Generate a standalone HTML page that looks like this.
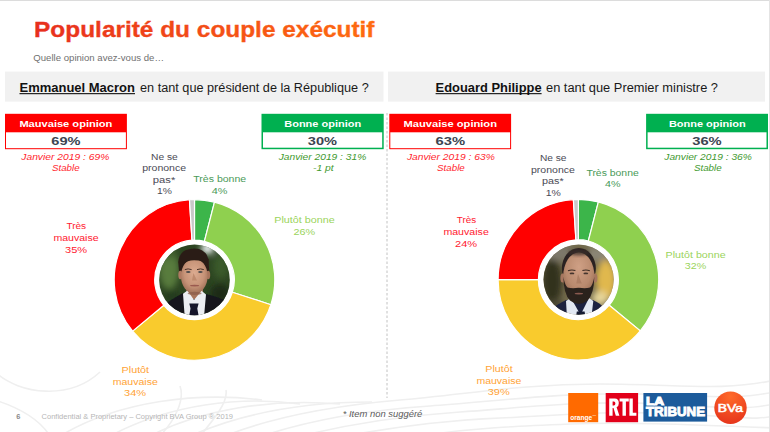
<!DOCTYPE html>
<html><head><meta charset="utf-8"><title>Popularité du couple exécutif</title>
<style>
html,body{margin:0;padding:0;background:#fff;}
body{width:770px;height:432px;overflow:hidden;font-family:"Liberation Sans",sans-serif;}
svg{display:block;font-family:"Liberation Sans",sans-serif;}
</style></head><body>
<svg width="770" height="432" viewBox="0 0 770 432">
<rect width="770" height="432" fill="#fff"/>
<defs><filter id="wb" x="-5%" y="-20%" width="110%" height="140%"><feGaussianBlur stdDeviation="0.6"/></filter></defs>
<g fill="none" stroke="#efefef" stroke-width="1.6" filter="url(#wb)">
<path d="M-5 372 C 20 395, 70 400, 100 372"/>
<path d="M-5 400 C 20 408, 40 420, 50 436"/>
<path d="M60 436 C 120 400, 200 392, 262 400"/>
<path d="M110 436 C 170 404, 240 396, 300 404"/>
<path d="M150 436 C 200 410, 270 398, 340 404"/>
<path d="M190 436 C 240 414, 300 402, 372 402"/>
<path d="M225 436 C 270 418, 330 406, 400 400 S 520 384, 600 384 S 720 392, 775 380"/>
<path d="M262 436 C 310 420, 370 410, 430 406 S 560 392, 640 394 S 730 400, 775 392"/>
<path d="M300 436 C 350 424, 400 416, 460 412 S 580 400, 660 404 S 740 410, 775 404"/>
<path d="M345 436 C 400 426, 450 420, 500 418 S 600 410, 680 414 S 750 420, 775 416"/>
<path d="M420 436 C 470 428, 520 426, 570 424 S 680 424, 775 428"/>
<path d="M160 436 C 175 420, 185 400, 180 386"/>
<path d="M200 436 C 215 418, 228 402, 226 390"/>
</g>
<rect x="0" y="0" width="770" height="1" fill="#dcdcdc"/>
<rect x="769" y="0" width="1" height="432" fill="#e4e4e4"/>
<defs><linearGradient id="tg" x1="34" x2="375" y1="0" y2="0" gradientUnits="userSpaceOnUse"><stop offset="0" stop-color="#e72f1d"/><stop offset="1" stop-color="#ff6c10"/></linearGradient></defs>
<text x="34.1" y="36.6" font-size="21.4" fill="url(#tg)" font-weight="bold" font-style="normal" textLength="340.4" lengthAdjust="spacingAndGlyphs" stroke="url(#tg)" stroke-width="0.3">Popularité du couple exécutif</text>
<text x="33.3" y="60.8" font-size="8.8" fill="#707070" font-weight="normal" font-style="normal" textLength="130.7" lengthAdjust="spacingAndGlyphs" >Quelle opinion avez-vous de…</text>
<rect x="5" y="71.6" width="378.5" height="30" fill="#f1f1f1"/>
<rect x="388" y="71.6" width="377" height="30" fill="#f1f1f1"/>
<text x="19.5" y="91.8" font-size="12.3" fill="#111" font-weight="bold" font-style="normal" textLength="115.5" lengthAdjust="spacingAndGlyphs" >Emmanuel Macron</text>
<rect x="19.5" y="93.1" width="115.5" height="1.1" fill="#111"/>
<text x="140.0" y="91.8" font-size="12.3" fill="#1a1a1a" font-weight="normal" font-style="normal" textLength="228.7" lengthAdjust="spacingAndGlyphs" >en tant que président de la République ?</text>
<text x="435.6" y="91.8" font-size="12.3" fill="#111" font-weight="bold" font-style="normal" textLength="106.0" lengthAdjust="spacingAndGlyphs" >Edouard Philippe</text>
<rect x="435.6" y="93.1" width="106" height="1.1" fill="#111"/>
<text x="546.0" y="91.8" font-size="12.3" fill="#1a1a1a" font-weight="normal" font-style="normal" textLength="172.0" lengthAdjust="spacingAndGlyphs" >en tant que Premier ministre ?</text>
<line x1="387" y1="113" x2="387" y2="398" stroke="#c2c2c2" stroke-width="1" stroke-dasharray="2.5 2"/>
<rect x="5" y="113.8" width="121.9" height="35.4" fill="#ff0000"/>
<rect x="6" y="132.3" width="119.9" height="15.9" fill="#fff"/>
<text x="19.4" y="126.9" font-size="9.5" fill="#fff" font-weight="bold" font-style="normal" textLength="93.0" lengthAdjust="spacingAndGlyphs" >Mauvaise opinion</text>
<text x="51.3" y="144.5" font-size="11.2" fill="#3b4450" font-weight="bold" font-style="normal" textLength="29.2" lengthAdjust="spacingAndGlyphs" >69%</text>
<text x="21.3" y="160.2" font-size="9.0" fill="#ff1f2f" font-weight="normal" font-style="italic" textLength="88.0" lengthAdjust="spacingAndGlyphs" >Janvier 2019 : 69%</text>
<text x="52.0" y="170.8" font-size="9.0" fill="#ff1f2f" font-weight="normal" font-style="italic" textLength="27.6" lengthAdjust="spacingAndGlyphs" >Stable</text>
<rect x="261.5" y="113.8" width="122.19999999999999" height="35.4" fill="#00b050"/>
<rect x="263.0" y="132.3" width="119.19999999999999" height="15.4" fill="#fff"/>
<text x="284.3" y="126.9" font-size="9.5" fill="#fff" font-weight="bold" font-style="normal" textLength="76.8" lengthAdjust="spacingAndGlyphs" >Bonne opinion</text>
<text x="307.8" y="144.5" font-size="11.2" fill="#3b4450" font-weight="bold" font-style="normal" textLength="29.2" lengthAdjust="spacingAndGlyphs" >30%</text>
<text x="278.7" y="160.2" font-size="9.0" fill="#3f9a2f" font-weight="normal" font-style="italic" textLength="87.6" lengthAdjust="spacingAndGlyphs" >Janvier 2019 : 31%</text>
<text x="313.0" y="170.8" font-size="9.0" fill="#3f9a2f" font-weight="normal" font-style="italic" textLength="20.7" lengthAdjust="spacingAndGlyphs" >-1 pt</text>
<rect x="389.3" y="113.8" width="121.80000000000001" height="35.4" fill="#ff0000"/>
<rect x="390.3" y="132.3" width="119.80000000000001" height="15.9" fill="#fff"/>
<text x="403.5" y="126.9" font-size="9.5" fill="#fff" font-weight="bold" font-style="normal" textLength="93.5" lengthAdjust="spacingAndGlyphs" >Mauvaise opinion</text>
<text x="435.6" y="144.5" font-size="11.2" fill="#3b4450" font-weight="bold" font-style="normal" textLength="29.6" lengthAdjust="spacingAndGlyphs" >63%</text>
<text x="406.9" y="160.2" font-size="9.0" fill="#ff1f2f" font-weight="normal" font-style="italic" textLength="87.9" lengthAdjust="spacingAndGlyphs" >Janvier 2019 : 63%</text>
<text x="437.0" y="170.8" font-size="9.0" fill="#ff1f2f" font-weight="normal" font-style="italic" textLength="27.8" lengthAdjust="spacingAndGlyphs" >Stable</text>
<rect x="646.1" y="113.8" width="121.89999999999998" height="35.4" fill="#00b050"/>
<rect x="647.6" y="132.3" width="118.89999999999998" height="15.4" fill="#fff"/>
<text x="668.9" y="126.9" font-size="9.5" fill="#fff" font-weight="bold" font-style="normal" textLength="76.8" lengthAdjust="spacingAndGlyphs" >Bonne opinion</text>
<text x="692.2" y="144.5" font-size="11.2" fill="#3b4450" font-weight="bold" font-style="normal" textLength="29.5" lengthAdjust="spacingAndGlyphs" >36%</text>
<text x="664.3" y="160.2" font-size="9.0" fill="#3f9a2f" font-weight="normal" font-style="italic" textLength="87.6" lengthAdjust="spacingAndGlyphs" >Janvier 2019 : 36%</text>
<text x="693.9" y="170.8" font-size="9.0" fill="#3f9a2f" font-weight="normal" font-style="italic" textLength="27.8" lengthAdjust="spacingAndGlyphs" >Stable</text>
<path d="M194.50 199.60A80.3 80.3 0 0 1 214.47 202.12L204.40 241.35A39.8 39.8 0 0 0 194.50 240.10Z" fill="#3cb54a" stroke="#fff" stroke-width="1.2" stroke-linejoin="round"/>
<path d="M214.47 202.12A80.3 80.3 0 0 1 270.87 304.71L232.35 292.20A39.8 39.8 0 0 0 204.40 241.35Z" fill="#8fd04f" stroke="#fff" stroke-width="1.2" stroke-linejoin="round"/>
<path d="M270.87 304.71A80.3 80.3 0 0 1 132.63 331.09L163.83 305.27A39.8 39.8 0 0 0 232.35 292.20Z" fill="#f9cb2d" stroke="#fff" stroke-width="1.2" stroke-linejoin="round"/>
<path d="M132.63 331.09A80.3 80.3 0 0 1 189.46 199.76L192.00 240.18A39.8 39.8 0 0 0 163.83 305.27Z" fill="#ff0000" stroke="#fff" stroke-width="1.2" stroke-linejoin="round"/>
<path d="M189.46 199.76A80.3 80.3 0 0 1 194.50 199.60L194.50 240.10A39.8 39.8 0 0 0 192.00 240.18Z" fill="#c8c8c8" stroke="#fff" stroke-width="1.2" stroke-linejoin="round"/>
<path d="M578.40 199.40A80.3 80.3 0 0 1 598.37 201.92L588.35 240.96A40.0 40.0 0 0 0 578.40 239.70Z" fill="#3cb54a" stroke="#fff" stroke-width="1.2" stroke-linejoin="round"/>
<path d="M598.37 201.92A80.3 80.3 0 0 1 640.27 330.89L609.22 305.20A40.0 40.0 0 0 0 588.35 240.96Z" fill="#8fd04f" stroke="#fff" stroke-width="1.2" stroke-linejoin="round"/>
<path d="M640.27 330.89A80.3 80.3 0 0 1 498.10 279.70L538.40 279.70A40.0 40.0 0 0 0 609.22 305.20Z" fill="#f9cb2d" stroke="#fff" stroke-width="1.2" stroke-linejoin="round"/>
<path d="M498.10 279.70A80.3 80.3 0 0 1 573.36 199.56L575.89 239.78A40.0 40.0 0 0 0 538.40 279.70Z" fill="#ff0000" stroke="#fff" stroke-width="1.2" stroke-linejoin="round"/>
<path d="M573.36 199.56A80.3 80.3 0 0 1 578.40 199.40L578.40 239.70A40.0 40.0 0 0 0 575.89 239.78Z" fill="#c8c8c8" stroke="#fff" stroke-width="1.2" stroke-linejoin="round"/>
<defs>
<clipPath id="c1"><circle cx="194.5" cy="279.9" r="35.3"/></clipPath>
<clipPath id="c2"><circle cx="578.6" cy="279.6" r="35.1"/></clipPath>
<filter id="b1" x="-10%" y="-10%" width="120%" height="120%"><feGaussianBlur stdDeviation="0.65"/></filter>
<filter id="b2" x="-30%" y="-30%" width="160%" height="160%"><feGaussianBlur stdDeviation="1.4"/></filter>
<filter id="b3" x="-30%" y="-30%" width="160%" height="160%"><feGaussianBlur stdDeviation="3"/></filter>
<radialGradient id="f1" cx="0.5" cy="0.42" r="0.62"><stop offset="0" stop-color="#dcab90"/><stop offset="0.6" stop-color="#c79478"/><stop offset="1" stop-color="#9a6b54"/></radialGradient>
<radialGradient id="f2" cx="0.5" cy="0.3" r="0.7"><stop offset="0" stop-color="#cfa085"/><stop offset="0.6" stop-color="#b98a6e"/><stop offset="1" stop-color="#8e634d"/></radialGradient>
</defs>
<!-- Macron -->
<g clip-path="url(#c1)">
<rect x="158" y="243" width="74" height="74" fill="#2c4421"/>
<g filter="url(#b3)">
<ellipse cx="169" cy="270" rx="10" ry="19" fill="#587c3e"/>
<ellipse cx="167" cy="252" rx="10" ry="7" fill="#3f5f2d"/>
<ellipse cx="207.5" cy="248.5" rx="6.5" ry="5.5" fill="#f4f8fa"/>
<ellipse cx="221" cy="266" rx="8" ry="13" fill="#3a5a2b"/>
<ellipse cx="220" cy="294" rx="10" ry="10" fill="#1a2b16"/>
<ellipse cx="172" cy="296" rx="7" ry="7" fill="#233a1c"/>
</g>
<g filter="url(#b1)">
<path d="M160 318 L163 306 Q170 300 183 293 L206 294 Q218 297 226 301 L231 318Z" fill="#13151c"/>
<rect x="186.5" y="286" width="16.5" height="13" fill="#a8755c"/>
<path d="M183 293.7 L187.5 290.5 L194 300 L201.5 290.8 L206 294.6 L203.9 318 L184.8 318Z" fill="#eceef2"/>
<path d="M189.3 303.6 L198.6 303.6 L197.3 308.6 L199 318 L188.8 318 L190.5 308.6Z" fill="#13172a"/>
<path d="M179.2 273 L178.2 262 Q179 253 186 250 Q192.6 247.6 199 249 Q207 252 208.7 259.5 L209.2 273 L205 273 L183 273Z" fill="#2b1d16"/>
<ellipse cx="180.3" cy="275" rx="2" ry="4.2" fill="#b07a62"/>
<ellipse cx="208.2" cy="275" rx="2" ry="4.2" fill="#a8745c"/>
<ellipse cx="194.3" cy="276" rx="13.3" ry="17.6" fill="url(#f1)"/>
<path d="M181.4 268 Q182 259.5 188 257.8 Q194 256.8 199 258 Q205.5 259.5 206.8 268 Q204 261.5 198.5 260.6 Q192 259.8 188 261.2 Q183.5 263 181.4 268Z" fill="#2b1d16"/>
</g>
<g filter="url(#b1)">
<path d="M184.8 269.6 Q188 268.2 191.6 269.6" stroke="#4a3228" stroke-width="1" fill="none"/>
<path d="M197 269.6 Q200.6 268.2 203.8 269.6" stroke="#4a3228" stroke-width="1" fill="none"/>
<ellipse cx="188.3" cy="272" rx="2.3" ry="0.9" fill="#4d4a4a"/>
<ellipse cx="200.4" cy="272" rx="2.3" ry="0.9" fill="#4d4a4a"/>
<path d="M193.4 273 L192 280.6 L197 280.6Z" fill="#b98468" opacity="0.8"/>
<ellipse cx="194.6" cy="285.6" rx="4.6" ry="0.9" fill="#9a5a4f"/>
<ellipse cx="194.6" cy="293.4" rx="7" ry="1.6" fill="#8a5c48" opacity="0.7"/>
</g>
</g>
<!-- Philippe -->
<g clip-path="url(#c2)">
<rect x="542" y="243" width="74" height="74" fill="#726a4c"/>
<g filter="url(#b3)">
<ellipse cx="552" cy="282" rx="10" ry="24" fill="#33321f"/>
<ellipse cx="560" cy="253" rx="14" ry="8" fill="#7d786a"/>
<ellipse cx="598" cy="254" rx="12" ry="8" fill="#8a8575"/>
<ellipse cx="606" cy="280" rx="10" ry="20" fill="#e0b84e"/>
<ellipse cx="600" cy="298" rx="8" ry="7" fill="#e6d59a"/>
<ellipse cx="556" cy="306" rx="8" ry="7" fill="#4d4935"/>
</g>
<g filter="url(#b1)">
<path d="M548 318 L552 309 Q556 305 566 300 L593 300 Q600 303 604 308 L608 318Z" fill="#1b2240"/>
<path d="M566 301 L571 298 L580.5 315 L589 298 L593.3 301 L591.3 318 L567 318Z" fill="#e2e8f2"/>
<path d="M576.8 311.4 L584.6 311.4 L585.6 318 L575.8 318Z" fill="#141a30"/>
<ellipse cx="578.85" cy="268.5" rx="17" ry="20.5" fill="#2c2420"/>
<ellipse cx="562.6" cy="278" rx="2.2" ry="4.6" fill="#a6765e"/>
<ellipse cx="595.2" cy="278" rx="2.2" ry="4.6" fill="#a6765e"/>
<ellipse cx="578.85" cy="277" rx="15.7" ry="24.6" fill="url(#f2)"/>
</g>
<g filter="url(#b2)">
<ellipse cx="578.8" cy="252.5" rx="11" ry="3" fill="#3a2e28" opacity="0.75"/>
</g>
<g filter="url(#b1)">
<path d="M563.4 277 Q563.6 294 570 300.5 Q578.85 307.5 587.6 300.5 Q594 294 594.3 277 Q592.6 285.5 590 287.5 Q586 288.8 578.85 287.8 Q571.6 288.8 567.6 287.5 Q565 285.5 563.4 277Z" fill="#2a211d"/>
<ellipse cx="578.9" cy="293.6" rx="4.2" ry="0.9" fill="#8a5a50"/>
<path d="M568 270.8 Q571.6 269.2 575.4 270.6" stroke="#3e2c25" stroke-width="1.1" fill="none"/>
<path d="M582.4 270.6 Q586 269.2 589.8 270.8" stroke="#3e2c25" stroke-width="1.1" fill="none"/>
<ellipse cx="572" cy="273.4" rx="2.4" ry="0.9" fill="#45352e"/>
<ellipse cx="585.8" cy="273.4" rx="2.4" ry="0.9" fill="#45352e"/>
<path d="M578 274 L576.2 283.4 L581.8 283.4Z" fill="#a97a60" opacity="0.8"/>
</g>
</g>

<text x="151.1" y="159.6" font-size="9.7" fill="#4a4a55" font-weight="normal" font-style="normal" textLength="26.7" lengthAdjust="spacingAndGlyphs" >Ne se</text>
<text x="142.2" y="170.9" font-size="9.7" fill="#4a4a55" font-weight="normal" font-style="normal" textLength="43.9" lengthAdjust="spacingAndGlyphs" >prononce</text>
<text x="152.8" y="182.7" font-size="9.7" fill="#4a4a55" font-weight="normal" font-style="normal" textLength="22.5" lengthAdjust="spacingAndGlyphs" >pas*</text>
<text x="157.0" y="194.2" font-size="9.7" fill="#4a4a55" font-weight="normal" font-style="normal" textLength="14.9" lengthAdjust="spacingAndGlyphs" >1%</text>
<text x="193.3" y="182.0" font-size="9.7" fill="#4a9a58" font-weight="normal" font-style="normal" textLength="52.9" lengthAdjust="spacingAndGlyphs" >Très bonne</text>
<text x="211.8" y="193.7" font-size="9.7" fill="#4a9a58" font-weight="normal" font-style="normal" textLength="15.7" lengthAdjust="spacingAndGlyphs" >4%</text>
<text x="274.3" y="223.0" font-size="9.7" fill="#9bd45c" font-weight="normal" font-style="normal" textLength="60.4" lengthAdjust="spacingAndGlyphs" >Plutôt bonne</text>
<text x="293.5" y="234.8" font-size="9.7" fill="#9bd45c" font-weight="normal" font-style="normal" textLength="21.7" lengthAdjust="spacingAndGlyphs" >26%</text>
<text x="66.4" y="228.8" font-size="9.7" fill="#ff2030" font-weight="normal" font-style="normal" textLength="19.7" lengthAdjust="spacingAndGlyphs" >Très</text>
<text x="53.4" y="240.7" font-size="9.7" fill="#ff2030" font-weight="normal" font-style="normal" textLength="45.2" lengthAdjust="spacingAndGlyphs" >mauvaise</text>
<text x="65.0" y="252.8" font-size="9.7" fill="#ff2030" font-weight="normal" font-style="normal" textLength="22.1" lengthAdjust="spacingAndGlyphs" >35%</text>
<text x="121.6" y="372.8" font-size="9.7" fill="#ffa336" font-weight="normal" font-style="normal" textLength="27.5" lengthAdjust="spacingAndGlyphs" >Plutôt</text>
<text x="112.7" y="384.5" font-size="9.7" fill="#ffa336" font-weight="normal" font-style="normal" textLength="45.1" lengthAdjust="spacingAndGlyphs" >mauvaise</text>
<text x="124.0" y="396.3" font-size="9.7" fill="#ffa336" font-weight="normal" font-style="normal" textLength="22.1" lengthAdjust="spacingAndGlyphs" >34%</text>
<text x="539.9" y="161.2" font-size="9.7" fill="#4a4a55" font-weight="normal" font-style="normal" textLength="26.6" lengthAdjust="spacingAndGlyphs" >Ne se</text>
<text x="531.0" y="173.1" font-size="9.7" fill="#4a4a55" font-weight="normal" font-style="normal" textLength="43.9" lengthAdjust="spacingAndGlyphs" >prononce</text>
<text x="542.0" y="184.4" font-size="9.7" fill="#4a4a55" font-weight="normal" font-style="normal" textLength="21.6" lengthAdjust="spacingAndGlyphs" >pas*</text>
<text x="545.8" y="195.9" font-size="9.7" fill="#4a4a55" font-weight="normal" font-style="normal" textLength="15.1" lengthAdjust="spacingAndGlyphs" >1%</text>
<text x="586.4" y="175.6" font-size="9.7" fill="#4a9a58" font-weight="normal" font-style="normal" textLength="52.4" lengthAdjust="spacingAndGlyphs" >Très bonne</text>
<text x="605.0" y="187.4" font-size="9.7" fill="#4a9a58" font-weight="normal" font-style="normal" textLength="15.5" lengthAdjust="spacingAndGlyphs" >4%</text>
<text x="665.6" y="257.7" font-size="9.7" fill="#9bd45c" font-weight="normal" font-style="normal" textLength="60.0" lengthAdjust="spacingAndGlyphs" >Plutôt bonne</text>
<text x="684.8" y="269.4" font-size="9.7" fill="#9bd45c" font-weight="normal" font-style="normal" textLength="21.4" lengthAdjust="spacingAndGlyphs" >32%</text>
<text x="456.8" y="223.4" font-size="9.7" fill="#ff2030" font-weight="normal" font-style="normal" textLength="19.3" lengthAdjust="spacingAndGlyphs" >Très</text>
<text x="443.4" y="235.3" font-size="9.7" fill="#ff2030" font-weight="normal" font-style="normal" textLength="45.4" lengthAdjust="spacingAndGlyphs" >mauvaise</text>
<text x="455.0" y="247.4" font-size="9.7" fill="#ff2030" font-weight="normal" font-style="normal" textLength="22.1" lengthAdjust="spacingAndGlyphs" >24%</text>
<text x="485.3" y="371.8" font-size="9.7" fill="#ffa336" font-weight="normal" font-style="normal" textLength="27.4" lengthAdjust="spacingAndGlyphs" >Plutôt</text>
<text x="476.4" y="383.8" font-size="9.7" fill="#ffa336" font-weight="normal" font-style="normal" textLength="45.0" lengthAdjust="spacingAndGlyphs" >mauvaise</text>
<text x="487.7" y="394.8" font-size="9.7" fill="#ffa336" font-weight="normal" font-style="normal" textLength="22.0" lengthAdjust="spacingAndGlyphs" >39%</text>
<text x="16.2" y="418.6" font-size="7.6" fill="#8a8a8a" font-weight="bold" font-style="normal" textLength="4.1" lengthAdjust="spacingAndGlyphs" >6</text>
<text x="41.6" y="418.5" font-size="6.7" fill="#b6b6b6" font-weight="normal" font-style="normal" textLength="191.4" lengthAdjust="spacingAndGlyphs" >Confidential &amp; Proprietary – Copyright BVA Group ® 2019</text>
<text x="342.7" y="416.8" font-size="8.6" fill="#5c5c5c" font-weight="normal" font-style="italic" textLength="79.6" lengthAdjust="spacingAndGlyphs" >* Item non suggéré</text>
<!-- orange -->
<rect x="568.2" y="393" width="30" height="29.2" fill="#ff6a00"/>
<text x="570.2" y="419.6" font-size="7.6" font-weight="bold" fill="#fff" textLength="22" lengthAdjust="spacingAndGlyphs">orange</text>
<text x="592.6" y="415.8" font-size="2.4" fill="#fff">TM</text>
<!-- RTL -->
<rect x="605.7" y="393" width="32.4" height="29.2" fill="#e2001a"/>
<g fill="#fff">
<path d="M609.2 398.6 h5.6 q4 0 4 4.6 q0 3.2 -2.2 4.1 l2.8 8.4 h-3.6 l-2.3 -7.6 h-0.9 v7.6 h-3.4z M612.6 401.4 v4.2 h1.2 q1.6 0 1.6 -2.1 q0 -2.1 -1.6 -2.1z"/>
<path d="M619.6 398.6 h9.2 v3 h-2.9 v14.1 h-3.4 v-14.1 h-2.9z"/>
<path d="M629.4 398.6 h3.4 v14.1 h3.6 v3 h-7z"/>
</g>
<!-- La Tribune -->
<rect x="643.4" y="393" width="63.7" height="28.6" fill="#1c5b9b"/>
<text x="646" y="404.9" font-size="11.2" font-weight="bold" fill="#fff" stroke="#fff" stroke-width="1" textLength="18.2" lengthAdjust="spacingAndGlyphs">LA</text>
<text x="646" y="416.4" font-size="13.2" font-weight="bold" fill="#fff" stroke="#fff" stroke-width="0.9" textLength="59" lengthAdjust="spacingAndGlyphs">TRIBUNE</text>
<!-- BVA -->
<defs><radialGradient id="bg" cx="0.5" cy="0.15" r="0.9"><stop offset="0" stop-color="#ff6a2a"/><stop offset="1" stop-color="#e5331b"/></radialGradient></defs>
<circle cx="730.5" cy="407.7" r="16.2" fill="url(#bg)"/>
<text x="717.8" y="412" font-size="10.6" fill="#fff" stroke="#fff" stroke-width="0.55" textLength="25.2" lengthAdjust="spacingAndGlyphs">BVa</text>

</svg>
</body></html>
